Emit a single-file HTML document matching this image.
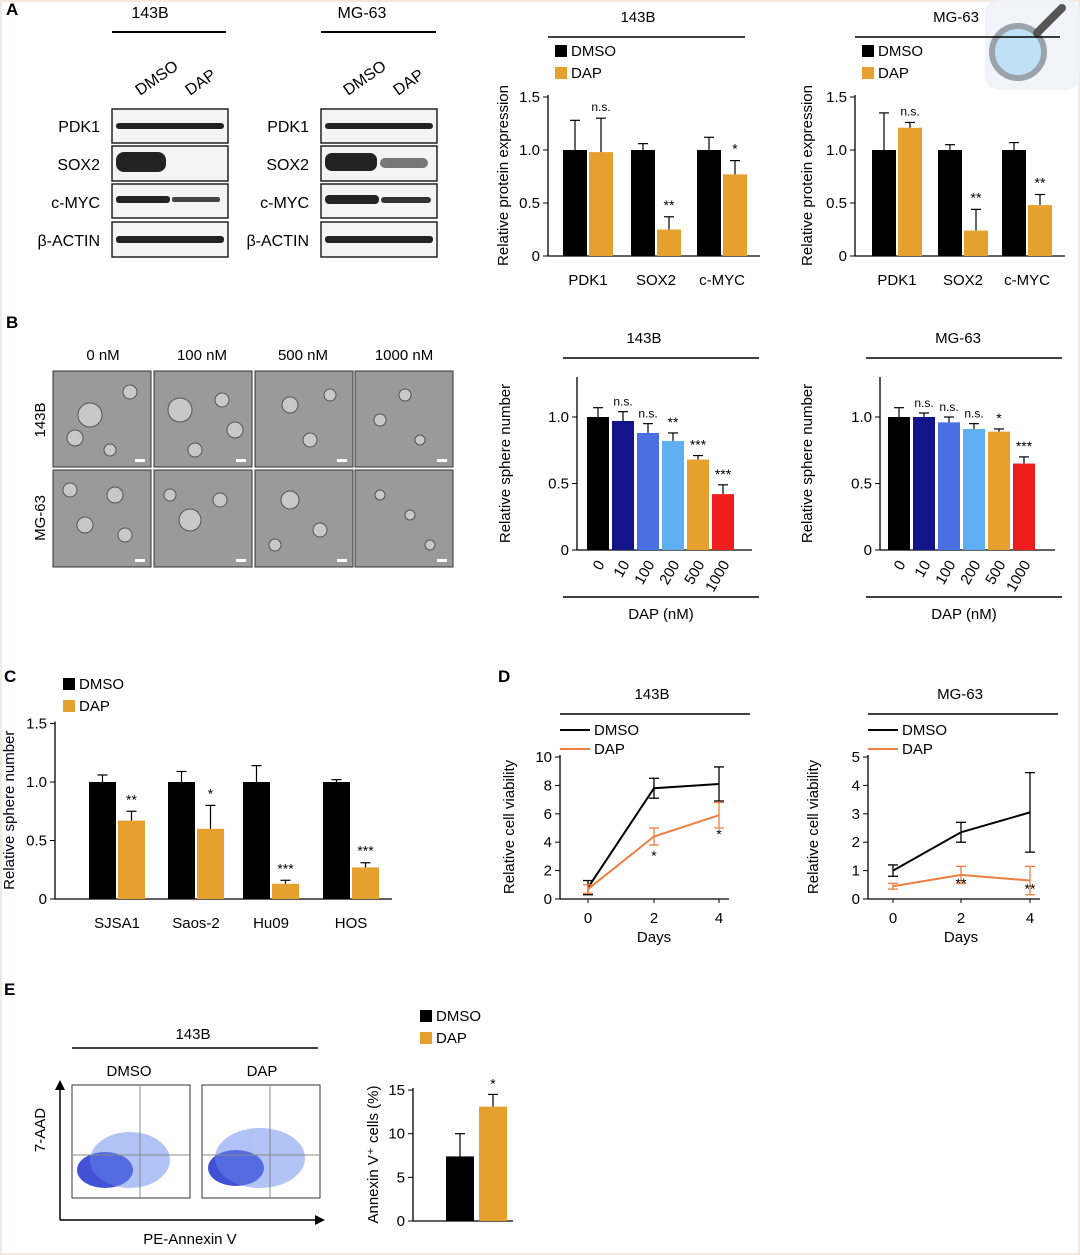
<!DOCTYPE html>
<html><head><meta charset="utf-8"><style>
body{margin:0;background:#fff}
svg{display:block;font-family:"Liberation Sans",sans-serif}
</style></head><body>
<svg id="fig" width="1080" height="1255" viewBox="0 0 1080 1255">
<rect x="0" y="0" width="1080" height="1255" fill="#fff" stroke="#f3e9df" stroke-width="4"/>
<g font-weight="bold" font-size="17">
<text x="6" y="15">A</text>
<text x="6" y="328">B</text>
<text x="4" y="682">C</text>
<text x="498" y="682">D</text>
<text x="4" y="995">E</text>
</g>
<g>
<rect x="985" y="0" width="95" height="90" rx="14" fill="#eef2f6" opacity="0.9"/>
<circle cx="1018" cy="52" r="26" fill="#bfe0f5" stroke="#9aa3aa" stroke-width="6"/>
<line x1="1037" y1="33" x2="1062" y2="8" stroke="#555" stroke-width="8" stroke-linecap="round"/>
</g>
<g font-size="16">
<text x="150" y="18" text-anchor="middle">143B</text>
<line x1="112" y1="32" x2="226" y2="32" stroke="#000" stroke-width="2"/>
<text x="362" y="18" text-anchor="middle">MG-63</text>
<line x1="321" y1="32" x2="436" y2="32" stroke="#000" stroke-width="2"/>
<text transform="translate(140,96) rotate(-35)">DMSO</text>
<text transform="translate(190,96) rotate(-35)">DAP</text>
<text transform="translate(348,96) rotate(-35)">DMSO</text>
<text transform="translate(398,96) rotate(-35)">DAP</text>
<g text-anchor="end">
<text x="100" y="132">PDK1</text><text x="100" y="170">SOX2</text><text x="100" y="208">c-MYC</text><text x="100" y="246">β-ACTIN</text>
<text x="309" y="132">PDK1</text><text x="309" y="170">SOX2</text><text x="309" y="208">c-MYC</text><text x="309" y="246">β-ACTIN</text>
</g>
<g fill="#f4f4f4" stroke="#222" stroke-width="1.5">
<rect x="112" y="109" width="116" height="34"/><rect x="112" y="146" width="116" height="35"/><rect x="112" y="184" width="116" height="34"/><rect x="112" y="222" width="116" height="35"/>
<rect x="321" y="109" width="116" height="34"/><rect x="321" y="146" width="116" height="35"/><rect x="321" y="184" width="116" height="34"/><rect x="321" y="222" width="116" height="35"/>
</g>
<g fill="#222">
<rect x="116" y="123" width="108" height="6" rx="3"/>
<rect x="116" y="152" width="50" height="20" rx="8"/>
<rect x="116" y="196" width="54" height="7" rx="3"/><rect x="172" y="197" width="48" height="5" rx="2" fill="#444"/>
<rect x="116" y="236" width="108" height="7" rx="3"/>
<rect x="325" y="123" width="108" height="6" rx="3"/>
<rect x="325" y="153" width="52" height="18" rx="7"/><rect x="380" y="158" width="48" height="10" rx="5" fill="#777"/>
<rect x="325" y="195" width="54" height="9" rx="4"/><rect x="381" y="197" width="50" height="6" rx="3" fill="#333"/>
<rect x="325" y="236" width="108" height="7" rx="3"/>
</g>
</g>
<g font-size="15">
<text x="103" y="360" text-anchor="middle">0 nM</text><text x="202" y="360" text-anchor="middle">100 nM</text>
<text x="303" y="360" text-anchor="middle">500 nM</text><text x="404" y="360" text-anchor="middle">1000 nM</text>
<text transform="translate(45,420) rotate(-90)" text-anchor="middle">143B</text>
<text transform="translate(45,518) rotate(-90)" text-anchor="middle">MG-63</text>
<g fill="#9a9a9a" stroke="#333" stroke-width="1">
<rect x="53" y="371" width="98" height="96"/><rect x="154" y="371" width="98" height="96"/><rect x="255" y="371" width="98" height="96"/><rect x="355" y="371" width="98" height="96"/>
<rect x="53" y="470" width="98" height="97"/><rect x="154" y="470" width="98" height="97"/><rect x="255" y="470" width="98" height="97"/><rect x="355" y="470" width="98" height="97"/>
</g>
<g fill="#c8c8c8" stroke="#555">
<circle cx="90" cy="415" r="12"/><circle cx="75" cy="438" r="8"/><circle cx="130" cy="392" r="7"/><circle cx="110" cy="450" r="6"/>
<circle cx="180" cy="410" r="12"/><circle cx="222" cy="400" r="7"/><circle cx="235" cy="430" r="8"/><circle cx="195" cy="450" r="7"/>
<circle cx="290" cy="405" r="8"/><circle cx="310" cy="440" r="7"/><circle cx="330" cy="395" r="6"/>
<circle cx="380" cy="420" r="6"/><circle cx="405" cy="395" r="6"/><circle cx="420" cy="440" r="5"/>
<circle cx="70" cy="490" r="7"/><circle cx="115" cy="495" r="8"/><circle cx="85" cy="525" r="8"/><circle cx="125" cy="535" r="7"/>
<circle cx="190" cy="520" r="11"/><circle cx="220" cy="500" r="7"/><circle cx="170" cy="495" r="6"/>
<circle cx="290" cy="500" r="9"/><circle cx="320" cy="530" r="7"/><circle cx="275" cy="545" r="6"/>
<circle cx="380" cy="495" r="5"/><circle cx="410" cy="515" r="5"/><circle cx="430" cy="545" r="5"/>
</g>
<g fill="#fff"><rect x="135" y="459" width="10" height="3"/><rect x="236" y="459" width="10" height="3"/><rect x="337" y="459" width="10" height="3"/><rect x="437" y="459" width="10" height="3"/>
<rect x="135" y="559" width="10" height="3"/><rect x="236" y="559" width="10" height="3"/><rect x="337" y="559" width="10" height="3"/><rect x="437" y="559" width="10" height="3"/></g>
</g>
<g font-size="15">
<text x="193" y="1039" text-anchor="middle">143B</text>
<line x1="72" y1="1048" x2="318" y2="1048" stroke="#000" stroke-width="1.5"/>
<text x="129" y="1076" text-anchor="middle">DMSO</text><text x="262" y="1076" text-anchor="middle">DAP</text>
<text transform="translate(45,1130) rotate(-90)" text-anchor="middle">7-AAD</text>
<text x="190" y="1244" text-anchor="middle">PE-Annexin V</text>
<line x1="60" y1="1220" x2="60" y2="1085" stroke="#000" stroke-width="1.5"/><path d="M55,1090 L60,1080 L65,1090Z"/>
<line x1="60" y1="1220" x2="318" y2="1220" stroke="#000" stroke-width="1.5"/><path d="M315,1215 L325,1220 L315,1225Z"/>
<g fill="#fff" stroke="#333"><rect x="72" y="1085" width="118" height="113"/><rect x="202" y="1085" width="118" height="113"/></g>
<g fill="#2233cc" opacity="0.85"><ellipse cx="105" cy="1170" rx="28" ry="18"/><ellipse cx="236" cy="1168" rx="28" ry="18"/></g>
<g fill="#6688ee" opacity="0.5"><ellipse cx="130" cy="1160" rx="40" ry="28"/><ellipse cx="260" cy="1158" rx="45" ry="30"/></g>
<g stroke="#888"><line x1="72" y1="1155" x2="190" y2="1155"/><line x1="140" y1="1085" x2="140" y2="1198"/><line x1="202" y1="1155" x2="320" y2="1155"/><line x1="270" y1="1085" x2="270" y2="1198"/></g>
</g>
<g id="charts"></g>
</svg>
<script>
const westCats = ["PDK1","SOX2","c-MYC"];
const west143bDmso = [1.0,1.0,1.0];
const west143bDap = [0.98,0.25,0.77];
const west143bDmsoErr = [0.28,0.06,0.12];
const west143bDapErr = [0.32,0.12,0.13];
const west143bSig = ["n.s.","**","*"];
const westMgDmso = [1.0,1.0,1.0];
const westMgDap = [1.21,0.24,0.48];
const westMgDmsoErr = [0.35,0.05,0.07];
const westMgDapErr = [0.05,0.2,0.1];
const westMgSig = ["n.s.","**","**"];
const westTicks = [0,0.5,1.0,1.5];

const doseCats = ["0","10","100","200","500","1000"];
const dose143b = [1.0,0.97,0.88,0.82,0.68,0.42];
const dose143bErr = [0.07,0.07,0.07,0.06,0.03,0.07];
const dose143bSig = ["","n.s.","n.s.","**","***","***"];
const doseMg = [1.0,1.0,0.96,0.91,0.89,0.65];
const doseMgErr = [0.07,0.03,0.04,0.04,0.02,0.05];
const doseMgSig = ["","n.s.","n.s.","n.s.","*","***"];
const doseTicks = [0,0.5,1.0];

const lineCats = ["SJSA1","Saos-2","Hu09","HOS"];
const lineDmso = [1.0,1.0,1.0,1.0];
const lineDap = [0.67,0.6,0.13,0.27];
const lineDmsoErr = [0.06,0.09,0.14,0.02];
const lineDapErr = [0.08,0.2,0.03,0.04];
const lineSig = ["**","*","***","***"];
const lineTicks = [0,0.5,1.0,1.5];

const days = [0,2,4];
const via143bDmso = [0.8,7.8,8.1];
const via143bDmsoErr = [0.5,0.7,1.2];
const via143bDap = [0.7,4.4,5.9];
const via143bDapErr = [0.3,0.6,0.9];
const via143bSig = ["","*","*"];
const via143bTicks = [0,2,4,6,8,10];
const viaMgDmso = [1.0,2.35,3.05];
const viaMgDmsoErr = [0.2,0.35,1.4];
const viaMgDap = [0.45,0.85,0.65];
const viaMgDapErr = [0.1,0.3,0.5];
const viaMgSig = ["","**","**"];
const viaMgTicks = [0,1,2,3,4,5];

const annexCats = ["DMSO","DAP"];
const annexVals = [7.4,13.1];
const annexErr = [2.6,1.4];
const annexTicks = [0,5,10,15];

const ORANGE = "#e5a02e";
const doseColors = ["#000","#14148a","#4a6fe3","#5fb0f2",ORANGE,"#ee1c1c"];
const NS = "http://www.w3.org/2000/svg";
const root = document.getElementById("charts");
function mk(tag, a, parent){const e=document.createElementNS(NS,tag);for(const k in a)e.setAttribute(k,a[k]);(parent||root).appendChild(e);return e;}
function txt(x,y,s,a,parent){const t=mk("text",Object.assign({x:x,y:y,"font-size":15},a||{}),parent);t.textContent=s;return t;}

function yAxis(x0,y0,ppu,ticks,fmt,title,titleX,topExtra){
  const yf=v=>y0-v*ppu;
  const top=yf(ticks[ticks.length-1])-(topExtra||2);
  const ax=mk("line",{x1:x0,y1:top,x2:x0,y2:y0,stroke:"#000","stroke-width":1.3});
  
  
  ticks.forEach(t=>{
    mk("line",{x1:x0-5,x2:x0,y1:yf(t),y2:yf(t),stroke:"#000"});
    const l=txt(x0-8,yf(t)+5,fmt(t),{"text-anchor":"end"});
    
    
  });
  const midY=(y0+top)/2;
  const tt=txt(0,0,title,{transform:`translate(${titleX},${midY}) rotate(-90)`,"text-anchor":"middle"});
  
  
  return yf;
}
function errBar(x,ytop,ybase,cap){
  mk("line",{x1:x,x2:x,y1:ytop,y2:ybase,stroke:"#000","stroke-width":1.2});
  mk("line",{x1:x-cap,x2:x+cap,y1:ytop,y2:ytop,stroke:"#000","stroke-width":1.2});
}
function bar(x,w,v,yf,color,name){
  const r=mk("rect",{x:x,y:yf(v),width:w,height:yf(0)-yf(v),fill:color});
  
  
  return r;
}
function legend(x,y,gap){
  const a=mk("rect",{x:x,y:y-10,width:12,height:12,fill:"#000"});
  
  
  txt(x+16,y+1,"DMSO");
  const b=mk("rect",{x:x,y:y-10+gap,width:12,height:12,fill:ORANGE});
  
  
  txt(x+16,y+1+gap,"DAP");
}
function titleLine(cx,y,label,x1,x2){txt(cx,y,label,{"text-anchor":"middle"});mk("line",{x1:x1,x2:x2,y1:y+15,y2:y+15,stroke:"#000","stroke-width":1.5});}
const f1=t=>t===0?"0":t.toFixed(1);

function groupedChart(x0,y0,ppu,ticks,fmt,title,titleX,cats,centers,d,da,de,dae,sig,bw,labelY){
  const yf=yAxis(x0,y0,ppu,ticks,fmt,title,titleX);
  mk("line",{x1:x0,x2:centers[centers.length-1]+bw+14,y1:y0,y2:y0,stroke:"#000","stroke-width":1.3});
  cats.forEach((c,i)=>{
    const cx=centers[i];
    bar(cx-bw-1,bw,d[i],yf,"#000","bar-dmso-"+c);
    bar(cx+1,bw,da[i],yf,ORANGE,"bar-dap-"+c);
    errBar(cx-1-bw/2,yf(d[i]+de[i]),yf(d[i]),5);
    errBar(cx+1+bw/2,yf(da[i]+dae[i]),yf(da[i]),5);
    const s=txt(cx+1+bw/2,yf(da[i]+dae[i])-7,sig[i],{"text-anchor":"middle","font-size":sig[i]==="n.s."?12:14});
    
    
    const l=txt(cx,labelY,c,{"text-anchor":"middle"});
    
    
  });
}
titleLine(638,22,"143B",548,745);
legend(555,55,22);
groupedChart(548,256,106,westTicks,f1,"Relative protein expression",508,westCats,[588,656,722],west143bDmso,west143bDap,west143bDmsoErr,west143bDapErr,west143bSig,24,285);
titleLine(956,22,"MG-63",855,1060);
legend(862,55,22);
groupedChart(855,256,106,westTicks,f1,"Relative protein expression",812,westCats,[897,963,1027],westMgDmso,westMgDap,westMgDmsoErr,westMgDapErr,westMgSig,24,285);

function doseChart(x0,y0,ppu,startX,step,vals,errs,sig,title,cx,titleX){
  titleLine(cx,343,title,x0-14,x0+182);
  const yf=yAxis(x0,y0,ppu,doseTicks,f1,"Relative sphere number",titleX,40);
  mk("line",{x1:x0,x2:x0+175,y1:y0,y2:y0,stroke:"#000","stroke-width":1.3});
  doseCats.forEach((c,i)=>{
    const x=startX+i*step;
    bar(x,22,vals[i],yf,doseColors[i],"bar-dose-"+c);
    errBar(x+11,yf(vals[i]+errs[i]),yf(vals[i]),5);
    if(sig[i]){const s=txt(x+11,yf(vals[i]+errs[i])-6,sig[i],{"text-anchor":"middle","font-size":sig[i]==="n.s."?12:14});
      
      }
    const l=txt(0,0,c,{transform:`translate(${x+18},${y0+14}) rotate(-60)`,"text-anchor":"end"});
    
    
  });
  mk("line",{x1:x0-14,x2:x0+182,y1:y0+47,y2:y0+47,stroke:"#000","stroke-width":1.5});
  txt(x0+84,y0+69,"DAP (nM)",{"text-anchor":"middle"});
}
doseChart(577,550,133,587,25,dose143b,dose143bErr,dose143bSig,"143B",644,510);
doseChart(880,550,133,888,25,doseMg,doseMgErr,doseMgSig,"MG-63",958,812);

legend(63,688,22);
groupedChart(55,899,117,lineTicks,f1,"Relative sphere number",14,lineCats,[117,196,271,351],lineDmso,lineDap,lineDmsoErr,lineDapErr,lineSig,27,928);

function lineChart(x0,y0,ppu,xs,ticks,dm,dme,dp,dpe,sig,title,cx,titleX,sigOff){
  titleLine(cx,699,title,x0,x0+190);
  mk("line",{x1:x0,x2:x0+30,y1:730,y2:730,stroke:"#000","stroke-width":2});
  txt(x0+34,735,"DMSO");
  mk("line",{x1:x0,x2:x0+30,y1:749,y2:749,stroke:"#ec7f3f","stroke-width":2});
  txt(x0+34,754,"DAP");
  const yf=yAxis(x0,y0,ppu,ticks,t=>String(t),"Relative cell viability",titleX);
  mk("line",{x1:x0,x2:xs[2]+10,y1:y0,y2:y0,stroke:"#000","stroke-width":1.3});
  days.forEach((d,i)=>{mk("line",{x1:xs[i],x2:xs[i],y1:y0,y2:y0+4,stroke:"#000"});txt(xs[i],y0+24,String(d),{"text-anchor":"middle"});});
  txt(xs[1],y0+43,"Days",{"text-anchor":"middle"});
  [[dm,dme,"#000","line-dmso"],[dp,dpe,"#ec7f3f","line-dap"]].forEach(([v,e,c,n])=>{
    const p=mk("polyline",{points:v.map((y,i)=>xs[i]+","+yf(y)).join(" "),fill:"none",stroke:c,"stroke-width":2});
    
    
    v.forEach((y,i)=>{
      mk("line",{x1:xs[i],x2:xs[i],y1:yf(y-e[i]),y2:yf(y+e[i]),stroke:c,"stroke-width":1.3});
      mk("line",{x1:xs[i]-5,x2:xs[i]+5,y1:yf(y+e[i]),y2:yf(y+e[i]),stroke:c,"stroke-width":1.3});
      mk("line",{x1:xs[i]-5,x2:xs[i]+5,y1:yf(y-e[i]),y2:yf(y-e[i]),stroke:c,"stroke-width":1.3});
    });
  });
  sig.forEach((s,i)=>{if(s){const t=txt(xs[i],yf(dp[i])+sigOff,s,{"text-anchor":"middle","font-size":14});
    
    }});
}
lineChart(560,899,14.2,[588,654,719],via143bTicks,via143bDmso,via143bDmsoErr,via143bDap,via143bDapErr,via143bSig,"143B",652,514,24);
lineChart(868,899,28.4,[893,961,1030],viaMgTicks,viaMgDmso,viaMgDmsoErr,viaMgDap,viaMgDapErr,viaMgSig,"MG-63",960,818,13);

legend(420,1020,22);
(function(){
  const x0=413,y0=1221,ppu=8.73;
  const yf=yAxis(x0,y0,ppu,annexTicks,t=>String(t),"Annexin V⁺ cells (%)",378);
  mk("line",{x1:x0,x2:x0+100,y1:y0,y2:y0,stroke:"#000","stroke-width":1.3});
  const cols=["#000",ORANGE],xs=[446,479];
  annexCats.forEach((c,i)=>{
    bar(xs[i],28,annexVals[i],yf,cols[i],"bar-annexin-"+c);
    errBar(xs[i]+14,yf(annexVals[i]+annexErr[i]),yf(annexVals[i]),5);
  });
  const s=txt(493,yf(annexVals[1]+annexErr[1])-6,"*",{"text-anchor":"middle","font-size":14});
  
  
})();
</script>
</body></html>
